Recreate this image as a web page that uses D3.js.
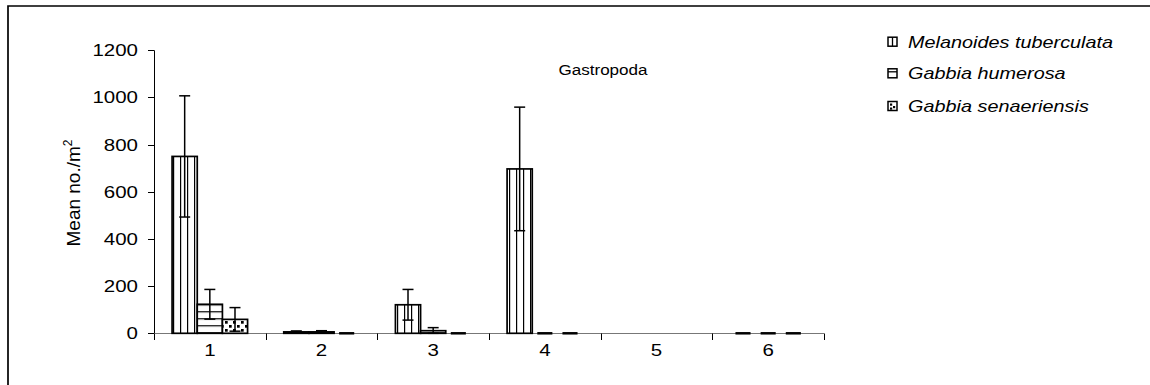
<!DOCTYPE html>
<html><head><meta charset="utf-8">
<script src="https://cdn.jsdelivr.net/npm/d3@7"></script>
<style>body{margin:0;background:#fff}svg{display:block}text{font-family:"Liberation Sans",Arial,sans-serif;fill:#000}</style>
</head><body>
<svg id="c" width="1150" height="385"></svg>
<script>
const categories = ["1","2","3","4","5","6"];
const seriesNames = ["Melanoides tuberculata","Gabbia humerosa","Gabbia senaeriensis"];
const melanoides = [750, 6, 121, 697, null, 0];
const melanoidesErr = [257, 4, 65, 262, null, 0];
const humerosa = [123, 6, 11, 0, null, 0];
const humerosaErr = [63, 5, 13, 0, null, 0];
const senaeriensis = [59, 0, 0, 0, null, 0];
const senaeriensisErr = [50, 0, 0, 0, null, 0];
const yTicks = [0,200,400,600,800,1000,1200];
const title = "Gastropoda";

const values = [melanoides, humerosa, senaeriensis];
const errs = [melanoidesErr, humerosaErr, senaeriensisErr];
const patterns = ["pv","ph","pd"];
const SX = 1.28;

const svg = d3.select("#c");
const defs = svg.append("defs");
// vertical lines
let p = defs.append("pattern").attr("id","pv").attr("patternUnits","userSpaceOnUse").attr("width",7).attr("height",7).attr("x",5);
p.append("rect").attr("width",7).attr("height",7).attr("fill","#fff");
p.append("line").attr("x1",0.5).attr("x2",0.5).attr("y1",0).attr("y2",7).attr("stroke","#000").attr("stroke-width",1.4);
// horizontal lines
p = defs.append("pattern").attr("id","ph").attr("patternUnits","userSpaceOnUse").attr("width",7).attr("height",7).attr("y",3.2);
p.append("rect").attr("width",7).attr("height",7).attr("fill","#fff");
p.append("line").attr("y1",0.5).attr("y2",0.5).attr("x1",0).attr("x2",7).attr("stroke","#000").attr("stroke-width",1.4);
// dots
p = defs.append("pattern").attr("id","pd").attr("patternUnits","userSpaceOnUse").attr("width",8).attr("height",8);
p.append("rect").attr("width",8).attr("height",8).attr("fill","#fff");
p.append("rect").attr("x",1).attr("y",1).attr("width",2.7).attr("height",2.7).attr("fill","#000");
p.append("rect").attr("x",5).attr("y",5).attr("width",2.7).attr("height",2.7).attr("fill","#000");

// frame (top + left)
svg.append("path").attr("d","M8,385V6H1150").attr("fill","none").attr("stroke","#000").attr("stroke-width",1.7);

const x0 = d3.scaleBand().domain(categories).range([154,824]).paddingInner(0.324).paddingOuter(0.162);
const x1 = d3.scaleBand().domain(d3.range(3)).range([0,x0.bandwidth()]);
const y = d3.scaleLinear().domain([0,1200]).range([333.3,50.3]);

function htext(g, x, yy, str, anchor, size, italic, sx){
  return g.append("text").attr("transform",`translate(${x},${yy}) scale(${sx||SX},1)`)
    .attr("text-anchor",anchor).attr("font-size",size).attr("font-style",italic?"italic":null).text(str);
}

// y axis
const ya = svg.append("g");
ya.append("line").attr("x1",154.5).attr("x2",154.5).attr("y1",y(1200)).attr("y2",y(0)).attr("stroke","#000");
yTicks.forEach(t=>{
  ya.append("line").attr("x1",148).attr("x2",154).attr("y1",Math.round(y(t))+0.5).attr("y2",Math.round(y(t))+0.5).attr("stroke","#000");
  htext(ya,138,y(t)+6,String(t),"end",16);
});
// y label
const yl = ya.append("text").attr("transform","translate(80,193) rotate(-90)").attr("text-anchor","middle").attr("font-size",19);
yl.append("tspan").text("Mean no./m");
yl.append("tspan").attr("font-size",12).attr("dy",-8).text("2");

// x axis
const xa = svg.append("g");
xa.append("line").attr("x1",154).attr("x2",824).attr("y1",333.5).attr("y2",333.5).attr("stroke","#777").attr("stroke-width",1.2);
d3.range(categories.length+1).forEach(i=>{
  const tx = Math.round(154 + i*x0.step())+0.5;
  xa.append("line").attr("x1",tx).attr("x2",tx).attr("y1",333.5).attr("y2",340).attr("stroke","#000");
});
categories.forEach(c=>{
  htext(xa,x0(c)+x0.bandwidth()/2,356,c,"middle",16);
});

// bars
const gBars = svg.append("g");
categories.forEach((c,i)=>{
  values.forEach((s,k)=>{
    const v = s[i];
    if(v===null) return;
    const bx = x0(c)+x1(k);
    if(v===0){
      gBars.append("line").attr("x1",bx+x1.bandwidth()*0.2).attr("x2",bx+x1.bandwidth()*0.8)
        .attr("y1",y(0)).attr("y2",y(0)).attr("stroke","#000").attr("stroke-width",2.5);
      return;
    }
    gBars.append("rect").attr("x",bx).attr("y",y(v)).attr("width",x1.bandwidth()).attr("height",y(0)-y(v))
      .attr("fill",`url(#${patterns[k]})`).attr("stroke","#000").attr("stroke-width",1.7);
  });
});

// error bars
const gErr = svg.append("g");
categories.forEach((c,i)=>{
  values.forEach((s,k)=>{
    const v = s[i], e = errs[k][i];
    if(v===null || !e) return;
    const cx = x0(c)+x1(k)+x1.bandwidth()/2;
    const lo = y(Math.max(0,v-e)), hi = y(v+e);
    gErr.append("line").attr("x1",cx).attr("x2",cx).attr("y1",hi).attr("y2",lo).attr("stroke","#000").attr("stroke-width",1.5);
    [hi,lo].forEach(yy=>gErr.append("line").attr("x1",cx-5.5).attr("x2",cx+5.5).attr("y1",yy).attr("y2",yy).attr("stroke","#000").attr("stroke-width",1.5));
  });
});

// title
htext(svg,603,75,title,"middle",15.5,false,1.1);

// legend
const lg = svg.append("g");
const legY = [41.7,73.3,106];
seriesNames.forEach((n,k)=>{
  const sw = lg.append("g").attr("transform",`translate(888,${legY[k]-4.5})`);
  sw.append("rect").attr("width",9).attr("height",9).attr("fill","#fff").attr("stroke","#000").attr("stroke-width",1.5);
  if(k===0) sw.append("line").attr("x1",4.5).attr("x2",4.5).attr("y1",0).attr("y2",9).attr("stroke","#000").attr("stroke-width",1.3);
  if(k===1) sw.append("line").attr("x1",0).attr("x2",9).attr("y1",3).attr("y2",3).attr("stroke","#000").attr("stroke-width",1.3);
  if(k===2){
    [[2,2],[5,4.5],[2,6]].forEach(d=>sw.append("rect").attr("x",d[0]).attr("y",d[1]).attr("width",2.2).attr("height",2.2).attr("fill","#000"));
  }
  htext(lg,908,legY[k]+6,n,"start",16,true,1.24);
});
</script>
</body></html>
